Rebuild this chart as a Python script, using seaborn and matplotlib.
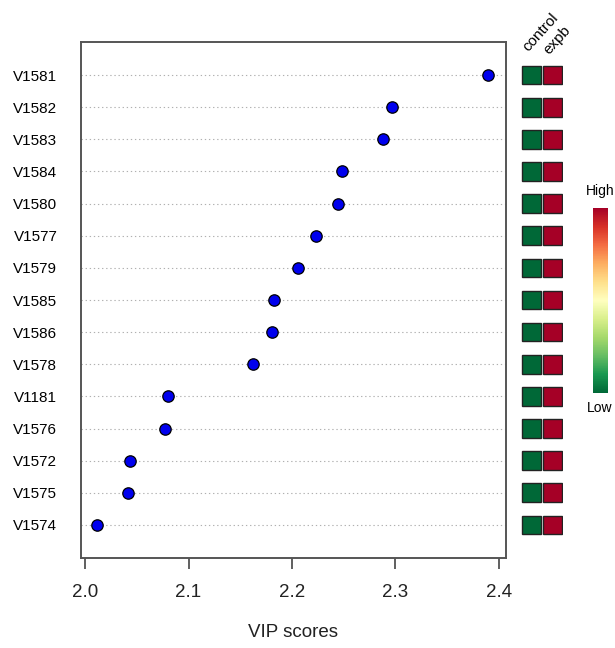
import numpy as np
import pandas as pd
import matplotlib
matplotlib.use("Agg")
import matplotlib.pyplot as plt
from matplotlib.patches import Rectangle
import matplotlib.cm as cm
import matplotlib.colors as mcolors
import seaborn as sns

features = ["V1581", "V1582", "V1583", "V1584", "V1580", "V1577", "V1579",
            "V1585", "V1586", "V1578", "V1181", "V1576", "V1572", "V1575", "V1574"]
vip_scores = [2.390, 2.297, 2.288, 2.248, 2.245, 2.223, 2.206,
              2.183, 2.181, 2.162, 2.080, 2.077, 2.043, 2.041, 2.011]
groups = ["control", "expb"]
# relative abundance (low -> high) for each group, per feature
control_level = [-1.0] * 15
expb_level = [1.0] * 15
x_ticks = [2.0, 2.1, 2.2, 2.3, 2.4]

sns.set_style("white")
plt.rcParams["font.family"] = ["Liberation Sans", "DejaVu Sans"]
plt.rcParams["text.color"] = "black"
plt.rcParams["xtick.color"] = "black"
plt.rcParams["ytick.color"] = "black"
plt.rcParams["axes.labelcolor"] = "black"

W, H = 615, 648
fig = plt.figure(figsize=(W / 100, H / 100), dpi=100)

def box(x0, y0, x1, y1):
    return [x0 / W, 1 - y1 / H, (x1 - x0) / W, (y1 - y0) / H]

ax = fig.add_axes(box(81, 42, 506, 558))
df = pd.DataFrame({"feature": features, "vip": vip_scores})
n = len(features)
sns.stripplot(data=df, x="vip", y="feature", order=features, jitter=False,
              color="#0000ee", edgecolor="black", linewidth=0.9, size=8.2,
              ax=ax, zorder=3)
ax.set_axisbelow(True)
ax.yaxis.grid(True, linestyle=(0, (1.2, 2.5)), color="#b0b0b0", linewidth=0.8)
ax.xaxis.grid(False)
ax.set_xlim(1.996, 2.407)
ax.set_ylim(n - 1 + 1.03, -1.03)
ax.set_xticks(x_ticks)
ax.set_xticklabels([f"{t:.1f}" for t in x_ticks])
ax.tick_params(axis="x", direction="out", length=8, width=1.2, color="#444444",
               labelsize=13.5, pad=11, bottom=True, labelcolor="#222222")
ax.tick_params(axis="y", length=0, labelsize=11, pad=17, labelcolor="black")
ax.set_ylabel("")
ax.set_xlabel("VIP scores", fontsize=13.5, labelpad=16, color="#222222")
for s in ax.spines.values():
    s.set_visible(True)
    s.set_color("#555555")
    s.set_linewidth(1.4)

# heat squares
cmap = plt.get_cmap("RdYlGn_r")
norm = mcolors.Normalize(vmin=-1, vmax=1)
hax = fig.add_axes(box(521, 42, 563, 558))
hax.set_xlim(0, 2)
hax.set_ylim(n - 1 + 1.03, -1.03)
hax.axis("off")
levels = [control_level, expb_level]
for j, lev in enumerate(levels):
    for i, v in enumerate(lev):
        hax.add_patch(Rectangle((j + 0.06, i - 0.29), 0.88, 0.58,
                                facecolor=cmap(norm(v)), edgecolor="#222222",
                                linewidth=1.0))
label_pos = [(528, 52), (549, 55)]
for g, (px, py) in zip(groups, label_pos):
    fig.text(px / W, 1 - py / H, g, rotation=48, rotation_mode="anchor",
             ha="left", va="baseline", fontsize=11)

# colour key
cax = fig.add_axes(box(593, 208, 608, 393))
sm = cm.ScalarMappable(norm=norm, cmap=cmap)
cb = fig.colorbar(sm, cax=cax)
cb.outline.set_visible(False)
cb.set_ticks([])
fig.text(600 / W, 1 - 191 / H, "High", ha="center", va="center", fontsize=10)
fig.text(600 / W, 1 - 408 / H, "Low", ha="center", va="center", fontsize=10)

fig.savefig("out.png", dpi=100)
